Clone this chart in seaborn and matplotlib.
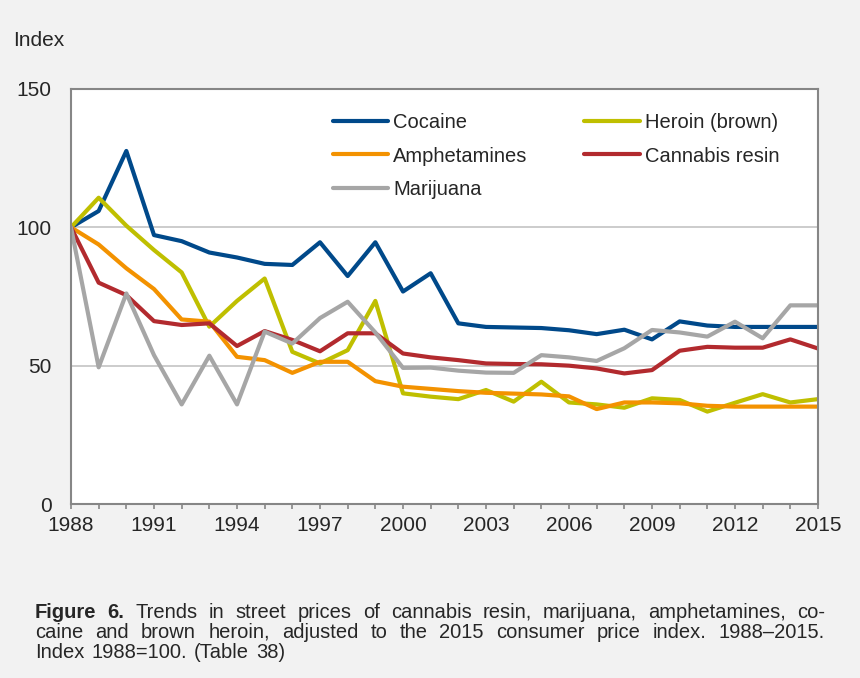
import numpy as np
import pandas as pd
import matplotlib
matplotlib.use("Agg")
import matplotlib.pyplot as plt
import seaborn as sns

# data (index 1988 = 100)
years = list(range(1988, 2016))
cocaine = [100, 105.9, 127.6, 97.2, 95.0, 90.9, 89.1, 86.8, 86.4, 94.6, 82.4, 94.6, 76.8,
           83.4, 65.3, 64.0, 63.8, 63.6, 62.8, 61.4, 63.0, 59.5, 66.0, 64.5, 64.0, 64.0, 64.0, 64.0]
heroin = [100, 110.7, 100.6, 91.8, 83.7, 64.1, 73.4, 81.5, 55.0, 50.8, 55.6, 73.4, 40.0,
          38.8, 37.9, 41.2, 37.0, 44.2, 36.7, 36.0, 34.8, 38.2, 37.6, 33.4, 36.6, 39.7, 36.7, 37.9]
amphetamines = [100, 93.8, 85.2, 77.7, 66.7, 65.9, 53.2, 52.0, 47.4, 51.4, 51.4, 44.4, 42.4,
                41.6, 40.8, 40.2, 39.9, 39.6, 38.9, 34.3, 36.7, 36.7, 36.4, 35.5, 35.2, 35.2, 35.2, 35.2]
cannabis_resin = [100, 80.0, 75.5, 66.1, 64.7, 65.3, 57.1, 62.5, 59.3, 55.2, 61.7, 61.7, 54.4,
                  53.0, 52.0, 50.8, 50.6, 50.5, 50.0, 49.0, 47.2, 48.4, 55.4, 56.8, 56.5, 56.5, 59.5, 56.2]
marijuana = [100, 49.4, 76.1, 53.8, 36.0, 53.6, 36.0, 62.3, 58.0, 67.2, 73.1, 62.0, 49.2,
             49.3, 48.2, 47.5, 47.4, 53.8, 53.0, 51.7, 56.3, 62.9, 62.0, 60.5, 65.9, 59.9, 71.8, 71.8]

series_names = ["Cocaine", "Heroin (brown)", "Amphetamines", "Cannabis resin", "Marijuana"]
series_values = [cocaine, heroin, amphetamines, cannabis_resin, marijuana]
colors = ["#00498a", "#bfbf00", "#f39200", "#b22a2e", "#a6a6a6"]

x_ticks = list(range(1988, 2016, 3))
y_ticks = [0, 50, 100, 150]

caption_lines = [
    "Trends in street prices of cannabis resin, marijuana, amphetamines, co-",
    "caine and brown heroin, adjusted to the 2015 consumer price index. 1988\u20132015.",
    "Index 1988=100. (Table 38)",
]

# long-form table for seaborn
frames = []
for name, vals in zip(series_names, series_values):
    frames.append(pd.DataFrame({"year": years, "index": vals, "drug": name}))
df = pd.concat(frames, ignore_index=True)

sns.set_style("white")
plt.rcParams["font.family"] = ["Liberation Sans", "DejaVu Sans"]

W, H = 860, 678
fig = plt.figure(figsize=(W / 100, H / 100), dpi=100, facecolor="#f2f2f2")
ax = fig.add_axes([71 / W, 1 - 504 / H, (818 - 71) / W, (504 - 89) / H])
ax.set_facecolor("white")

# grid lines
for yv in y_ticks[1:]:
    ax.axhline(yv, color="#c8c8c8", lw=1.3, zorder=0)

sns.lineplot(data=df, x="year", y="index", hue="drug", hue_order=series_names,
             palette=colors, linewidth=3.0, ax=ax, legend=False, sort=False)

ax.set_xlim(1988, 2015)
ax.set_ylim(0, 150)
ax.set_xticks(x_ticks)
ax.set_xticks(years, minor=True)
ax.set_yticks(y_ticks)
ax.tick_params(axis="x", which="both", direction="out", length=3.8, width=1.2,
               color="#868686", bottom=True, labelsize=15, pad=5)
ax.tick_params(axis="y", length=0, labelsize=15, pad=14)
ax.set_xlabel("")
ax.set_ylabel("")
for s in ax.spines.values():
    s.set_color("#868686")
    s.set_linewidth(1.5)

# legend: column-wise fill gives Cocaine/Amphetamines/Marijuana then Heroin/Cannabis
handles = [plt.Line2D([], [], color=c, lw=3.0) for c in colors]
order = [0, 2, 4, 1, 3]
ax.legend([handles[i] for i in order], [series_names[i] for i in order], ncol=2,
          loc="upper left", bbox_to_anchor=(333 / W, 1 - 113 / H),
          bbox_transform=fig.transFigure, frameon=False, fontsize=14.5,
          handlelength=2.75, handletextpad=0.25, labelspacing=0.72,
          columnspacing=2.8, borderpad=0, borderaxespad=0)

fig.text(13 / W, 1 - 40 / H, "Index", fontsize=15, va="center", ha="left")

# caption, justified like the source for the first two lines
renderer = fig.canvas.get_renderer()
left_px, right_px = 35, 825
cap_size = 14.5
baselines = [618, 638, 658]


def place_words(words, y_px, justify, first_bold=False):
    texts = []
    for i, w in enumerate(words):
        weight = "bold" if (first_bold and i < 2) else "normal"
        t = fig.text(0, 1 - y_px / H, w, fontsize=cap_size, fontweight=weight,
                     va="baseline", ha="left")
        texts.append(t)
    widths = [t.get_window_extent(renderer=renderer).width for t in texts]
    if justify:
        gap = (right_px - left_px - sum(widths)) / (len(words) - 1)
    else:
        gap = cap_size * 100 / 72 * 0.35
    x = left_px
    for t, w in zip(texts, widths):
        t.set_x(x / W)
        x += w + gap


place_words(("Figure 6. " + caption_lines[0]).split(" "), baselines[0], True, first_bold=True)
place_words(caption_lines[1].split(" "), baselines[1], True)
place_words(caption_lines[2].split(" "), baselines[2], False)

fig.savefig("out.png", dpi=100, facecolor=fig.get_facecolor())
